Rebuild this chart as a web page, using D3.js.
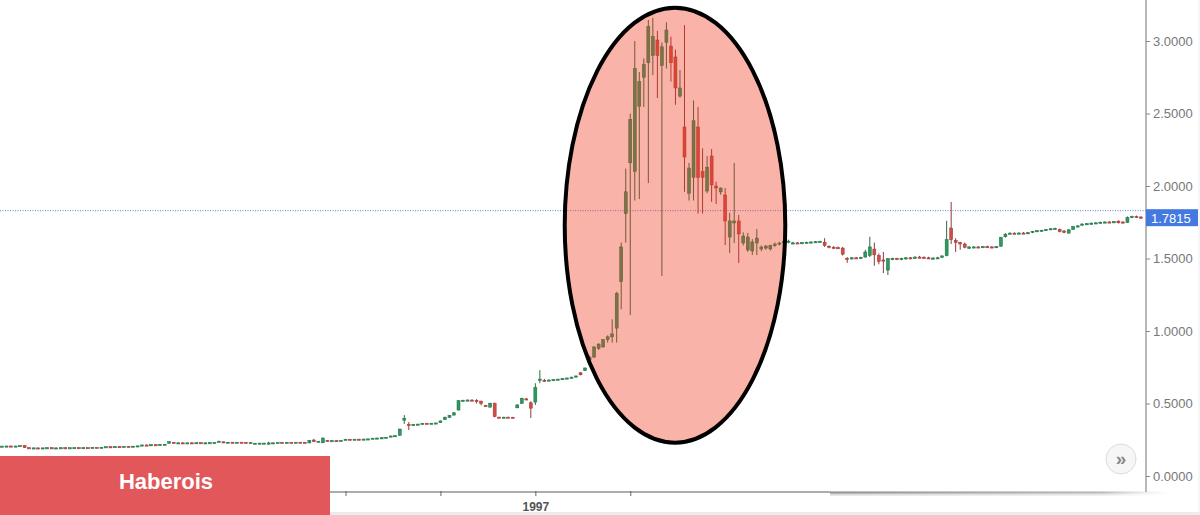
<!DOCTYPE html>
<html>
<head>
<meta charset="utf-8">
<script src="https://cdn.jsdelivr.net/npm/d3@7"></script>
<style>
  body { margin: 0; background: #fff; }
  svg { display: block; font-family: Arial, 'Liberation Sans', sans-serif; }
</style>
</head>
<body>
<div id="chart"></div>
<script>
// candles as [open, high, low, close]
const early = [
  [.204,.208,.202,.206],[.206,.209,.204,.207],[.207,.210,.205,.205],[.205,.208,.203,.207],[.207,.212,.206,.210],
  [.210,.212,.194,.196],
  [.195,.197,.191,.193],[.193,.196,.190,.194],[.194,.196,.191,.192],[.192,.195,.190,.194],[.194,.197,.192,.195],
  [.195,.197,.192,.193],[.193,.196,.191,.194],[.194,.196,.192,.195],[.195,.198,.193,.194],[.194,.196,.192,.195],
  [.195,.197,.193,.196],[.196,.198,.193,.194],[.194,.197,.192,.196],[.196,.198,.194,.195],[.195,.198,.193,.197],
  [.197,.199,.195,.196],[.196,.199,.194,.198],
  [.198,.203,.197,.202],[.202,.204,.199,.201],[.201,.204,.199,.203],[.203,.205,.200,.202],[.202,.205,.200,.204],
  [.204,.206,.201,.203],[.203,.207,.201,.206],[.206,.209,.204,.208],
  [.208,.216,.207,.214],[.214,.217,.211,.213],[.213,.217,.211,.216],[.216,.218,.213,.215],[.215,.219,.213,.217],
  [.217,.220,.214,.218],
  [.225,.240,.224,.237],
  [.232,.233,.226,.228],[.228,.231,.226,.229],[.229,.231,.226,.227],[.227,.230,.225,.229],[.229,.232,.227,.228],
  [.228,.231,.226,.230],[.230,.232,.227,.228],[.228,.231,.226,.229],[.229,.232,.227,.230],[.230,.233,.228,.231],
  [.234,.243,.233,.240],
  [.236,.237,.230,.232],[.232,.235,.230,.233],[.233,.235,.230,.231],[.231,.234,.229,.233],[.233,.235,.230,.232],
  [.232,.234,.229,.230],[.230,.233,.228,.231],
  [.222,.228,.220,.226],[.224,.228,.221,.227],[.223,.229,.221,.227],[.226,.236,.215,.228],[.227,.231,.225,.229],
  [.229,.232,.227,.231],
  [.231,.233,.228,.230],[.230,.233,.228,.232],[.232,.234,.229,.231],[.231,.234,.229,.233],[.233,.235,.230,.232],
  [.232,.234,.229,.228],
  [.228,.248,.226,.246],[.248,.256,.235,.237],[.238,.241,.235,.240],[.229,.264,.227,.262],
  [.245,.247,.240,.243],[.243,.246,.241,.244],[.244,.246,.241,.242],[.242,.246,.240,.245],
  [.250,.256,.249,.253],[.253,.256,.250,.252],[.252,.255,.250,.254],[.254,.257,.251,.253],[.253,.256,.250,.255],
  [.255,.258,.252,.256],
  [.257,.262,.255,.261],[.259,.264,.257,.262],[.261,.266,.258,.264],[.263,.268,.261,.267],
  [.270,.279,.268,.276],[.275,.280,.272,.278]
]

const climb = [
  [.280,.326,.279,.324],[.385,.420,.360,.398],[.355,.372,.317,.350],[.350,.358,.347,.355],[.355,.360,.352,.358],
  [.360,.366,.357,.363],[.363,.367,.360,.362],[.362,.366,.359,.364],[.364,.368,.361,.366],
  [.368,.382,.366,.380],[.388,.410,.386,.405],[.405,.420,.400,.418],[.420,.440,.418,.436],[.455,.522,.452,.519],
  [.519,.526,.515,.522],[.522,.528,.518,.524],[.524,.528,.519,.521],[.521,.530,.500,.516],[.516,.520,.488,.500],
  [.486,.490,.478,.482],[.475,.505,.472,.502],[.502,.506,.405,.410],
  [.406,.409,.403,.405],[.405,.408,.403,.406],[.406,.409,.404,.405],[.405,.408,.402,.404],
  [.470,.495,.468,.490],[.500,.540,.498,.535],[.532,.538,.528,.530],[.505,.515,.400,.468],[.510,.640,.490,.610],
  [.662,.730,.640,.668],[.660,.670,.650,.656],
  [.658,.665,.654,.662],[.662,.668,.657,.665],[.665,.670,.660,.668],[.668,.674,.664,.672],[.672,.678,.668,.676],
  [.676,.684,.672,.682],[.682,.692,.680,.690],
  [.712,.716,.694,.698],[.728,.748,.724,.745]
]

const bubble = [
  [.800,.830,.790,.820],[.820,.895,.815,.890],[.880,.915,.870,.910],[.890,.945,.885,.940],[.940,.970,.920,.960],
  [.960,1.080,.920,.980],[1.020,1.270,.920,1.260],[1.340,1.610,1.150,1.580],[1.810,2.120,1.610,1.960],
  [2.160,2.500,1.110,2.460],[2.100,3.000,1.900,2.810],[2.550,2.786,1.910,2.720],[2.750,2.880,2.545,2.840],
  [2.850,3.145,2.020,3.100],[2.900,3.160,2.765,3.030],[3.007,3.070,2.607,2.900],[2.830,2.990,1.380,2.960],
  [2.990,3.130,2.810,3.076],[2.965,3.030,2.720,2.850],[2.890,2.940,2.560,2.676],[2.620,2.800,2.610,2.676],
  [2.407,3.110,1.960,2.200],[1.950,2.160,1.900,2.124],[2.060,2.590,1.900,2.450],[2.407,2.545,1.810,2.060],
  [2.100,2.260,1.810,2.060],[1.965,2.207,1.950,2.130],[2.207,2.255,1.890,2.007],[2.000,2.030,1.876,1.986],
  [1.959,1.990,1.940,1.986],[1.938,1.986,1.593,1.759],[1.648,1.814,1.538,1.759],[1.745,2.159,1.607,1.759],
  [1.759,1.800,1.469,1.669],[1.607,1.680,1.590,1.655],[1.559,1.676,1.545,1.648],[1.552,1.634,1.524,1.614],
  [1.607,1.703,1.524,1.641],[1.566,1.590,1.550,1.579],[1.572,1.592,1.560,1.586],[1.566,1.595,1.555,1.590],
  [1.590,1.610,1.580,1.600],[1.600,1.615,1.590,1.607],[1.607,1.625,1.600,1.620],[1.614,1.630,1.605,1.620]
]

const plateau = [
  [1.605,1.615,1.598,1.608],[1.608,1.612,1.600,1.604],[1.604,1.612,1.598,1.610],[1.610,1.616,1.605,1.612],
  [1.612,1.618,1.606,1.614],[1.614,1.620,1.608,1.616],[1.616,1.622,1.610,1.618],
  [1.612,1.640,1.580,1.590],
  [1.585,1.590,1.570,1.578],[1.578,1.585,1.565,1.575],[1.575,1.582,1.568,1.572],
  [1.572,1.580,1.520,1.530],[1.500,1.510,1.470,1.495],
  [1.497,1.510,1.493,1.505],[1.505,1.510,1.500,1.503],[1.503,1.512,1.498,1.508],
  [1.510,1.560,1.505,1.545],[1.520,1.650,1.510,1.580],[1.565,1.610,1.450,1.525],[1.520,1.535,1.460,1.480],
  [1.490,1.545,1.400,1.488],[1.420,1.500,1.386,1.500],
  [1.492,1.505,1.488,1.500],[1.500,1.505,1.490,1.495],[1.495,1.505,1.488,1.500],[1.500,1.508,1.492,1.505],
  [1.505,1.510,1.495,1.500],
  [1.500,1.515,1.498,1.510],[1.510,1.518,1.502,1.508],[1.508,1.515,1.500,1.505],
  [1.505,1.512,1.497,1.500],[1.500,1.510,1.495,1.503],[1.503,1.512,1.498,1.505],
  [1.508,1.520,1.505,1.518],[1.520,1.760,1.515,1.630],[1.710,1.890,1.600,1.630],[1.625,1.640,1.545,1.610],
  [1.610,1.615,1.560,1.600],[1.600,1.610,1.570,1.578],[1.570,1.585,1.565,1.580],
  [1.578,1.585,1.572,1.580],[1.580,1.585,1.574,1.578],[1.578,1.586,1.572,1.582],[1.582,1.588,1.576,1.580],
  [1.580,1.586,1.574,1.578],[1.578,1.585,1.572,1.582],
  [1.585,1.650,1.580,1.645],[1.650,1.675,1.645,1.668],
  [1.670,1.680,1.665,1.675],[1.675,1.680,1.668,1.672],[1.672,1.680,1.666,1.676],[1.676,1.682,1.670,1.674],
  [1.674,1.682,1.668,1.678],
  [1.680,1.690,1.675,1.688],[1.688,1.695,1.682,1.692],[1.692,1.698,1.686,1.695],[1.695,1.702,1.690,1.700],
  [1.700,1.710,1.697,1.705],[1.705,1.712,1.700,1.708],
  [1.700,1.706,1.680,1.685],[1.690,1.695,1.675,1.680],[1.675,1.700,1.672,1.698],[1.700,1.725,1.698,1.720],
  [1.720,1.730,1.715,1.725],
  [1.730,1.742,1.725,1.738],[1.738,1.745,1.732,1.740],[1.740,1.748,1.734,1.744],[1.744,1.750,1.738,1.746],
  [1.746,1.754,1.740,1.750],[1.750,1.756,1.744,1.752],[1.752,1.758,1.746,1.750],[1.750,1.757,1.744,1.754],
  [1.758,1.762,1.742,1.746],[1.752,1.756,1.742,1.748],[1.748,1.790,1.745,1.782],[1.784,1.795,1.778,1.790],
  [1.790,1.796,1.782,1.786],[1.786,1.792,1.776,1.7815]
]

const yTicks = [0, 0.5, 1.0, 1.5, 2.0, 2.5, 3.0]
const xTickIndex = [13, 34, 55, 76, 97, 118, 139]
const xTickLabels = ['', '', '', '', '', '1997', '']
const lastPrice = 1.7815
const refLineValue = 1.83
// highlight ellipse: centre (candle index, price) and half sizes
const bubbleCentre = [148.9, 1.73]
const bubbleHalf = [24.4, 1.5]
const bannerText = 'Haberois'

const candles = [...early, ...climb, ...bubble, ...plateau]

const svgWidth = 1200
const svgHeight = 515
const margin = { top: 0, left: 0, right: 54, bottom: 23 }
const width = svgWidth - margin.left - margin.right
const height = svgHeight - margin.top - margin.bottom

const svg = d3
  .select('#chart')
  .append('svg')
  .attr('width', svgWidth)
  .attr('height', svgHeight)

const defs = svg.append('defs')
const fade = defs
  .append('linearGradient')
  .attr('id', 'axis-fade')
  .attr('x1', '0%')
  .attr('x2', '100%')
fade.append('stop').attr('offset', '0%').attr('stop-color', '#888').attr('stop-opacity', 0.9)
fade.append('stop').attr('offset', '80%').attr('stop-color', '#aaa').attr('stop-opacity', 0.8)
fade.append('stop').attr('offset', '100%').attr('stop-color', '#ccc').attr('stop-opacity', 0)

const xPositionScale = d3
  .scaleLinear()
  .domain([0, candles.length - 1])
  .range([2, 1141])
const yPositionScale = d3.scaleLinear().domain([0, 3]).range([476, 41])

const plot = svg.append('g').attr('transform', 'translate(' + margin.left + ',' + margin.top + ')')

// reference dotted line
plot
  .append('line')
  .attr('x1', 0)
  .attr('x2', width)
  .attr('y1', yPositionScale(refLineValue))
  .attr('y2', yPositionScale(refLineValue))
  .attr('stroke', '#5b82d8')
  .attr('stroke-width', 1)
  .attr('stroke-dasharray', '1,1.5')

const green = '#2b9a5f'
const red = '#d24c47'

const candle = plot
  .selectAll('.candle')
  .data(candles)
  .enter()
  .append('g')
  .attr('class', 'candle')

candle
  .append('line')
  .attr('x1', (d, i) => xPositionScale(i))
  .attr('x2', (d, i) => xPositionScale(i))
  .attr('y1', d => yPositionScale(d[1]))
  .attr('y2', d => yPositionScale(d[2]))
  .attr('stroke', d => (d[3] >= d[0] ? '#2c6a45' : '#8c3b36'))
  .attr('stroke-width', 1)

candle
  .append('rect')
  .attr('x', (d, i) => xPositionScale(i) - 1.5)
  .attr('width', 3)
  .attr('y', d => yPositionScale(Math.max(d[0], d[3])))
  .attr('height', d => Math.max(1.2, Math.abs(yPositionScale(d[0]) - yPositionScale(d[3]))))
  .attr('fill', d => (d[3] >= d[0] ? green : red))
  .attr('stroke', d => (d[3] >= d[0] ? '#1f6b43' : '#9a3431'))
  .attr('stroke-width', 0.5)

// highlight ellipse
const ecx = xPositionScale(bubbleCentre[0])
const ecy = yPositionScale(bubbleCentre[1])
const erx = xPositionScale(bubbleCentre[0] + bubbleHalf[0]) - ecx
const ery = yPositionScale(bubbleCentre[1] - bubbleHalf[1]) - ecy

plot
  .append('ellipse')
  .attr('cx', ecx)
  .attr('cy', ecy)
  .attr('rx', erx)
  .attr('ry', ery)
  .attr('fill', 'rgb(240,60,30)')
  .attr('fill-opacity', 0.39)
  .attr('stroke', '#000')
  .attr('stroke-width', 4)

// banner
svg
  .append('rect')
  .attr('x', 0)
  .attr('y', 456)
  .attr('width', 330)
  .attr('height', 59)
  .attr('fill', '#e2585a')

svg
  .append('text')
  .attr('x', 166)
  .attr('y', 489)
  .attr('text-anchor', 'middle')
  .attr('fill', '#fff')
  .attr('font-size', 22)
  .attr('font-weight', 'bold')
  .text(bannerText)

// x axis
const xAxis = d3
  .axisBottom(xPositionScale)
  .tickValues(xTickIndex)
  .tickFormat((d, i) => xTickLabels[i])
  .tickSize(5)
  .tickPadding(5)

const xAxisG = plot
  .append('g')
  .attr('class', 'axis x-axis')
  .attr('transform', 'translate(0,' + height + ')')
  .call(xAxis)
xAxisG.select('.domain').remove()
xAxisG.selectAll('.tick line').attr('stroke', '#666').attr('transform', 'translate(0,-1)')
xAxisG
  .selectAll('.tick text')
  .attr('fill', '#555')
  .attr('font-size', 12)
  .attr('font-weight', 'bold')
  .attr('font-family', 'Arial, Liberation Sans, sans-serif')

plot
  .append('line')
  .attr('x1', 0)
  .attr('x2', 830)
  .attr('y1', height)
  .attr('y2', height)
  .attr('stroke', '#5a5a5a')
  .attr('stroke-width', 1.2)
plot
  .append('rect')
  .attr('x', 830)
  .attr('y', height - 0.6)
  .attr('width', 340)
  .attr('height', 2.2)
  .attr('fill', 'url(#axis-fade)')
plot
  .append('rect')
  .attr('x', 830)
  .attr('y', height + 1.6)
  .attr('width', 340)
  .attr('height', 2)
  .attr('fill', 'url(#axis-fade)')
  .attr('opacity', 0.35)

// bottom strip
svg
  .append('rect')
  .attr('x', 330)
  .attr('y', 512)
  .attr('width', svgWidth - 330)
  .attr('height', 3)
  .attr('fill', '#ececec')

// y axis on the right
const yAxis = d3
  .axisRight(yPositionScale)
  .tickValues(yTicks)
  .tickFormat(d3.format('.4f'))
  .tickSize(4)
  .tickPadding(3)

const yAxisG = plot
  .append('g')
  .attr('class', 'axis y-axis')
  .attr('transform', 'translate(' + width + ',0)')
  .call(yAxis)
yAxisG.select('.domain').remove()
yAxisG.selectAll('.tick line').attr('stroke', '#888')
yAxisG
  .selectAll('.tick text')
  .attr('fill', '#777')
  .attr('font-size', 13)
  .attr('font-family', 'Arial, Liberation Sans, sans-serif')

plot
  .append('line')
  .attr('x1', width)
  .attr('x2', width)
  .attr('y1', 0)
  .attr('y2', height)
  .attr('stroke', '#888')
  .attr('stroke-width', 1.2)

// last price tag
const tagY = yPositionScale(lastPrice)
plot
  .append('rect')
  .attr('x', width)
  .attr('y', tagY - 8.5)
  .attr('width', 52)
  .attr('height', 17)
  .attr('fill', '#4479e1')
plot
  .append('text')
  .attr('x', width + 5)
  .attr('y', tagY + 5)
  .attr('fill', '#fff')
  .attr('font-size', 13)
  .text(d3.format('.4f')(lastPrice))

// right border
svg
  .append('line')
  .attr('x1', svgWidth - 1)
  .attr('x2', svgWidth - 1)
  .attr('y1', 0)
  .attr('y2', svgHeight)
  .attr('stroke', '#eee')

// scroll button
const btn = svg.append('g').attr('transform', 'translate(1121,459)')
btn
  .append('circle')
  .attr('r', 15)
  .attr('fill', '#f6f6f6')
  .attr('stroke', '#dcdcdc')
btn
  .append('text')
  .attr('text-anchor', 'middle')
  .attr('y', 6)
  .attr('fill', '#888')
  .attr('font-size', 19)
  .attr('font-weight', 'bold')
  .text('»')
</script>
</body>
</html>
